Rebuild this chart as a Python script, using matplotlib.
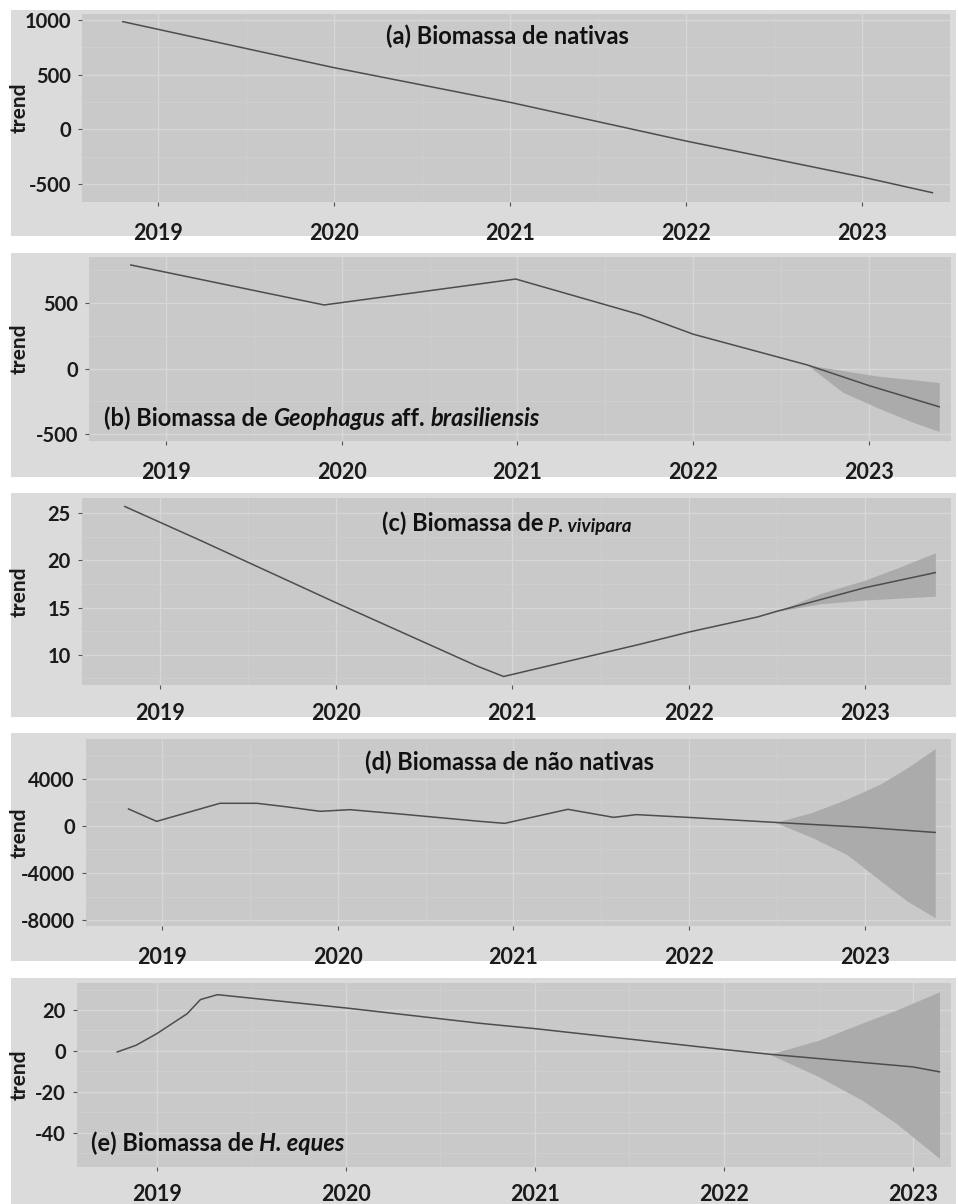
"""
Trend components of fish biomass (natives, G. aff. brasiliensis, P. vivipara,
non-natives, H. eques), five stacked panels with forecast bands.
"""
import matplotlib.pyplot as plt
from matplotlib.patches import Rectangle
from matplotlib.ticker import MultipleLocator

plt.rcParams["font.family"] = ["Lato", "DejaVu Sans"]
plt.rcParams["axes.unicode_minus"] = False

W, H = 958, 1204

YEARS = [2019, 2020, 2021, 2022, 2023]

# (a) native biomass
nat_t = [2018.80, 2020.00, 2021.00, 2022.00, 2023.00, 2023.40]
nat_v = [985, 564, 247, -107, -436, -580]

# (b) Geophagus aff. brasiliensis
geo_t = [2018.80, 2019.90, 2020.99, 2021.70, 2022.00, 2022.65, 2023.00, 2023.40]
geo_v = [790, 485, 683, 410, 262, 27, -130, -292]
geo_band_t = [2022.65, 2022.85, 2023.05, 2023.25, 2023.40]
geo_hi = [27, -15, -58, -85, -107]
geo_lo = [27, -180, -300, -410, -480]

# (c) Poecilia vivipara
viv_t = [2018.80, 2019.23, 2020.00, 2020.80, 2020.95, 2021.72, 2022.00,
         2022.39, 2022.50, 2023.00, 2023.40]
viv_v = [25.7, 22.1, 15.5, 8.8, 7.7, 11.1, 12.4, 14.0, 14.6, 17.1, 18.7]
viv_band_t = [2022.50, 2022.75, 2023.00, 2023.20, 2023.40]
viv_hi = [14.6, 16.5, 17.9, 19.3, 20.8]
viv_lo = [14.6, 15.4, 15.8, 16.0, 16.2]

# (d) non-native biomass
non_t = [2018.81, 2018.97, 2019.33, 2019.54, 2019.70, 2019.90, 2020.07,
         2020.35, 2020.81, 2020.95, 2021.31, 2021.57, 2021.70, 2021.99,
         2022.49, 2023.00, 2023.40]
non_v = [1420, 370, 1900, 1900, 1620, 1220, 1360, 1000, 370, 200, 1390,
         710, 940, 710, 280, -140, -570]
non_band_t = [2022.49, 2022.70, 2022.90, 2023.09, 2023.24, 2023.40]
non_hi = [280, 1130, 2270, 3550, 4900, 6530]
non_lo = [280, -1000, -2470, -4680, -6380, -7800]

# (e) Hyphessobrycon eques
heq_t = [2018.79, 2018.89, 2019.00, 2019.16, 2019.23, 2019.32, 2020.00,
         2020.71, 2021.00, 2022.00, 2022.24, 2023.00, 2023.14]
heq_v = [-0.5, 2.8, 8.5, 18.2, 25.1, 27.5, 21.0, 13.5, 10.9, 0.7, -1.6,
         -7.8, -10.2]
heq_band_t = [2022.24, 2022.50, 2022.73, 2022.91, 2023.14]
heq_hi = [-1.6, 5.2, 13.6, 19.9, 28.9]
heq_lo = [-1.6, -12.5, -24.0, -35.3, -52.5]

PANEL_BG = "#c9c9c9"
PLOT_BG = "#dbdbdb"
LINE = "#4d4d4d"
BAND = "#ababab"
TITLE_SIZE = 17

fig = plt.figure(figsize=(W / 100, H / 100), dpi=100, facecolor="white")


def panel(box, plot_box, xlim, ylim, ystep, yticks, xpad=12):
    # box / plot_box: pixel extents (x0, y0, x1, y1), measured from top-left
    bx0, by0, bx1, by1 = box
    fig.add_artist(Rectangle((bx0 / W, 1 - by1 / H), (bx1 - bx0) / W,
                             (by1 - by0) / H, transform=fig.transFigure,
                             facecolor=PLOT_BG, edgecolor="none", zorder=-1))
    x0, y0, x1, y1 = plot_box
    ax = fig.add_axes([x0 / W, 1 - y1 / H, (x1 - x0) / W, (y1 - y0) / H])
    ax.set_facecolor(PANEL_BG)
    for s in ax.spines.values():
        s.set_visible(False)
    ax.set_xlim(*xlim)
    ax.set_ylim(*ylim)
    ax.set_xticks(YEARS)
    ax.xaxis.set_minor_locator(MultipleLocator(0.5))
    ax.set_yticks(yticks)
    ax.yaxis.set_minor_locator(MultipleLocator(ystep / 2))
    ax.grid(True, which="major", color="#d7d7d7", lw=1.0)
    ax.grid(True, which="minor", color="#d0d0d0", lw=0.6)
    ax.set_axisbelow(True)
    ax.tick_params(which="minor", length=0)
    ax.tick_params(axis="x", length=3, width=0.8, color="#555555", pad=xpad,
                   labelsize=15.5)
    ax.tick_params(axis="y", length=3, width=0.8, color="#555555", pad=5,
                   labelsize=14.5)
    for lab in ax.get_xticklabels() + ax.get_yticklabels():
        lab.set_fontweight("bold")
        lab.set_color("#1a1a1a")
    ax.set_ylabel("trend", fontsize=15, fontweight="bold", color="#1a1a1a")
    ax.yaxis.set_label_coords((30 - x0) / (x1 - x0), 0.5)
    return ax


def chain(ax, x, y, parts):
    # parts: (text, italic, size, gap_pt) laid out left to right
    txt, ital, size, _ = parts[0]
    prev = ax.text(x, y, txt, transform=ax.transAxes, ha="left",
                   va="center", fontsize=size, fontweight="bold",
                   fontstyle="italic" if ital else "normal", color="#111111")
    for txt, ital, size, gap in parts[1:]:
        prev = ax.annotate(txt, xy=(1, 0), xycoords=prev,
                           xytext=(gap, 0), textcoords="offset points",
                           ha="left", va="bottom", fontsize=size,
                           fontweight="bold",
                           fontstyle="italic" if ital else "normal",
                           color="#111111")


# (a)
ax = panel((11, 10, 956, 236), (82, 14, 950, 202), (2018.568, 2023.5),
           (-665, 1055), 500, [-500, 0, 500, 1000])
ax.plot(nat_t, nat_v, color=LINE, lw=1.1)
ax.text(0.49, 0.883, "(a) Biomassa de nativas", transform=ax.transAxes,
        ha="center", va="center", fontsize=TITLE_SIZE, fontweight="bold",
        color="#111111")

# (b)
ax = panel((11, 253, 956, 477), (89, 257, 951, 441), (2018.562, 2023.467),
           (-553, 851), 500, [-500, 0, 500])
ax.fill_between(geo_band_t, geo_lo, geo_hi, color=BAND, lw=0)
ax.plot(geo_t, geo_v, color=LINE, lw=1.1)
chain(ax, 0.0174, 0.125, [("(b) Biomassa de", False, TITLE_SIZE, 0),
                          ("Geophagus", True, TITLE_SIZE, 4),
                          ("aff.", False, TITLE_SIZE, 4),
                          ("brasiliensis", True, TITLE_SIZE, 4)])

# (c)
ax = panel((11, 493, 956, 717), (82, 498, 951, 685), (2018.557, 2023.489),
           (6.8, 26.6), 5, [10, 15, 20, 25], xpad=10)
ax.fill_between(viv_band_t, viv_lo, viv_hi, color=BAND, lw=0)
ax.plot(viv_t, viv_v, color=LINE, lw=1.1)
chain(ax, 0.345, 0.866, [("(c) Biomassa de", False, TITLE_SIZE, 0),
                         ("P. vivipara", True, 13.5, 3.5)])

# (d)
ax = panel((11, 733, 956, 961), (86, 739, 951, 926), (2018.568, 2023.49),
           (-8500, 7350), 4000, [-8000, -4000, 0, 4000])
ax.fill_between(non_band_t, non_lo, non_hi, color=BAND, lw=0)
ax.plot(non_t, non_v, color=LINE, lw=1.1)
ax.text(0.49, 0.877, "(d) Biomassa de não nativas", transform=ax.transAxes,
        ha="center", va="center", fontsize=TITLE_SIZE, fontweight="bold",
        color="#111111")

# (e)
ax = panel((11, 978, 956, 1204), (77, 983, 951, 1167), (2018.577, 2023.201),
           (-56.7, 33.2), 20, [-40, -20, 0, 20], xpad=9)
ax.fill_between(heq_band_t, heq_lo, heq_hi, color=BAND, lw=0)
ax.plot(heq_t, heq_v, color=LINE, lw=1.1)
chain(ax, 0.016, 0.13, [("(e) Biomassa de", False, TITLE_SIZE, 0),
                        ("H. eques", True, TITLE_SIZE, 4)])

fig.savefig("out.png", dpi=100, facecolor="white")
